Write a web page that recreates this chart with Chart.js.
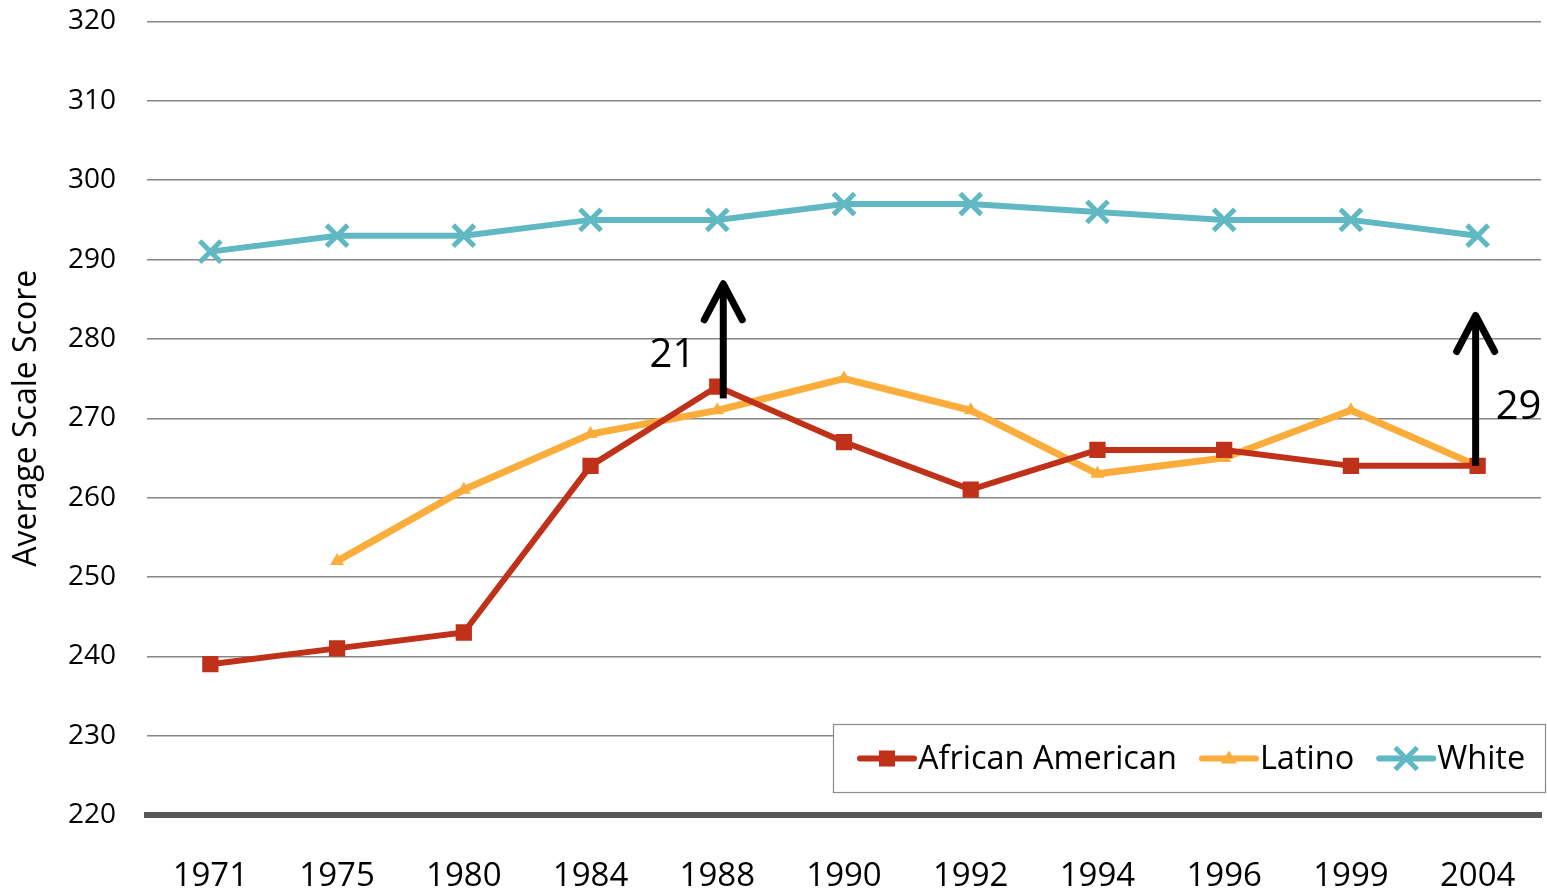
<!DOCTYPE html>
<html>
<head>
<meta charset="utf-8">
<script src="https://cdn.jsdelivr.net/npm/chart.js@4"></script>
<style>
  html, body { margin: 0; padding: 0; background: #fff; }
  #wrap { width: 1547px; height: 889px; }
</style>
</head>
<body>
<div id="wrap"><canvas id="scoreChart" width="1547" height="889"></canvas></div>
<script>
const years = ["1971", "1975", "1980", "1984", "1988", "1990", "1992", "1994", "1996", "1999", "2004"];
const africanAmerican = [239, 241, 243, 264, 274, 267, 261, 266, 266, 264, 264];
const latino = [null, 252, 261, 268, 271, 275, 271, 263, 265, 271, 264];
const white = [291, 293, 293, 295, 295, 297, 297, 296, 295, 295, 293];
const yTicks = [220, 230, 240, 250, 260, 270, 280, 290, 300, 310, 320];

// gap arrows: year, start value, tip value, label, label side
const gapYears = ["1988", "2004"];
const gapFrom = [272.5, 264];
const gapTo = [287.2, 283.2];
const gapLabels = ["21", "29"];
const gapSide = ["left", "right"];

const FONT = "'Open Sans', 'DejaVu Sans', sans-serif";

const gapArrows = {
    id: "gapArrows",
    afterDatasetsDraw(chart) {
        const ctx = chart.ctx;
        const x = chart.scales.x;
        const y = chart.scales.y;
        ctx.save();
        ctx.strokeStyle = "#000";
        ctx.fillStyle = "#000";
        ctx.lineWidth = 7;
        ctx.lineJoin = "round";
        gapYears.forEach((yr, i) => {
            // arrows sit a little off the category centre in the original
            const nudge = gapSide[i] === "left" ? 6 : -2;
            const px = x.getPixelForValue(years.indexOf(yr)) + nudge;
            const y0 = y.getPixelForValue(gapFrom[i]);
            const y1 = y.getPixelForValue(gapTo[i]);
            ctx.beginPath();
            ctx.lineCap = "butt";
            ctx.moveTo(px, y0);
            ctx.lineTo(px, y1 + 3);
            ctx.stroke();
            ctx.lineCap = "round";
            ctx.beginPath();
            ctx.moveTo(px - 19, y1 + 38);
            ctx.lineTo(px, y1 + 2);
            ctx.lineTo(px + 19, y1 + 38);
            ctx.stroke();
            ctx.font = "40px " + FONT;
            ctx.textBaseline = "middle";
            if (gapSide[i] === "left") {
                ctx.textAlign = "right";
                ctx.fillText(gapLabels[i], px - 28, 356);
            } else {
                ctx.textAlign = "left";
                ctx.fillText(gapLabels[i], px + 20, 408);
            }
        });
        ctx.restore();
    }
};

const boxLegend = {
    id: "boxLegend",
    afterDraw(chart) {
        const ctx = chart.ctx;
        const left = 833, top = 724, right = 1546, bottom = 793;
        ctx.save();
        ctx.fillStyle = "#fff";
        ctx.fillRect(left, top, right - left, bottom - top);
        ctx.strokeStyle = "#8c8c8c";
        ctx.lineWidth = 1.2;
        ctx.strokeRect(left + 0.5, top + 0.5, right - left - 1, bottom - top - 1);
        ctx.font = "32.5px " + FONT;
        ctx.textBaseline = "middle";
        ctx.textAlign = "left";
        const midY = (top + bottom) / 2;
        let cx = 857;
        chart.data.datasets.forEach(ds => {
            ctx.strokeStyle = ds.borderColor;
            ctx.lineWidth = 6;
            ctx.lineCap = "round";
            ctx.beginPath();
            ctx.moveTo(cx + 3, midY);
            ctx.lineTo(cx + 57, midY);
            ctx.stroke();
            ctx.lineCap = "butt";
            const mx = cx + 30;
            if (ds.pointStyle === "rect") {
                ctx.fillStyle = ds.borderColor;
                ctx.fillRect(mx - 8, midY - 8, 16, 16);
            } else if (ds.pointStyle === "triangle") {
                ctx.fillStyle = ds.borderColor;
                ctx.beginPath();
                ctx.moveTo(mx, midY - 8);
                ctx.lineTo(mx + 8, midY + 5);
                ctx.lineTo(mx - 8, midY + 5);
                ctx.closePath();
                ctx.fill();
            } else {
                ctx.lineWidth = 5;
                ctx.beginPath();
                ctx.moveTo(mx - 11, midY - 11);
                ctx.lineTo(mx + 11, midY + 11);
                ctx.moveTo(mx + 11, midY - 11);
                ctx.lineTo(mx - 11, midY + 11);
                ctx.stroke();
            }
            ctx.fillStyle = "#000";
            ctx.fillText(ds.label, cx + 61, midY + 1);
            cx += 61 + ctx.measureText(ds.label).width + 22;
        });
        ctx.restore();
    }
};

new Chart(document.getElementById("scoreChart").getContext("2d"), {
    type: "line",
    data: {
        labels: years,
        datasets: [
            {
                label: "African American",
                data: africanAmerican,
                borderColor: "#c0311a",
                backgroundColor: "#c0311a",
                borderWidth: 6,
                pointStyle: "rect",
                pointRadius: 11.5,
                pointBorderWidth: 0,
                tension: 0
            },
            {
                label: "Latino",
                data: latino,
                borderColor: "#fbad3c",
                backgroundColor: "#fbad3c",
                borderWidth: 7,
                pointStyle: "triangle",
                pointRadius: 8,
                pointBorderWidth: 0,
                tension: 0
            },
            {
                label: "White",
                data: white,
                borderColor: "#5fb8c2",
                backgroundColor: "#5fb8c2",
                borderWidth: 6,
                pointStyle: "crossRot",
                pointRadius: 15,
                pointBorderWidth: 5,
                tension: 0
            }
        ]
    },
    options: {
        responsive: false,
        animation: false,
        layout: { autoPadding: false, padding: { top: 21.5, right: 6, left: 0, bottom: 0 } },
        plugins: {
            legend: { display: false },
            tooltip: { enabled: false }
        },
        scales: {
            x: {
                offset: true,
                grid: { display: false, drawTicks: false },
                border: { display: true, color: "#595959", width: 6 },
                ticks: {
                    color: "#000",
                    font: { family: FONT, size: 33 },
                    padding: 42,
                    maxRotation: 0,
                    autoSkip: false
                },
                afterFit(scale) {
                    scale.height = 74;
                    scale.paddingLeft = 0;
                    scale.paddingRight = 0;
                }
            },
            y: {
                min: 220,
                max: 320,
                afterBuildTicks(scale) { scale.ticks = yTicks.map(v => ({ value: v })); },
                grid: { color: "#868686", lineWidth: 1.5, drawTicks: false },
                border: { display: false },
                ticks: {
                    color: "#000",
                    font: { family: FONT, size: 28 },
                    padding: 31
                },
                title: {
                    display: true,
                    text: "Average Scale Score",
                    color: "#000",
                    font: { family: FONT, size: 32 },
                    padding: { top: 8, bottom: 0 }
                },
                afterFit(scale) {
                    scale.width = 147;
                    scale.paddingTop = 0;
                    scale.paddingBottom = 0;
                }
            }
        }
    },
    plugins: [gapArrows, boxLegend]
});
</script>
</body>
</html>
